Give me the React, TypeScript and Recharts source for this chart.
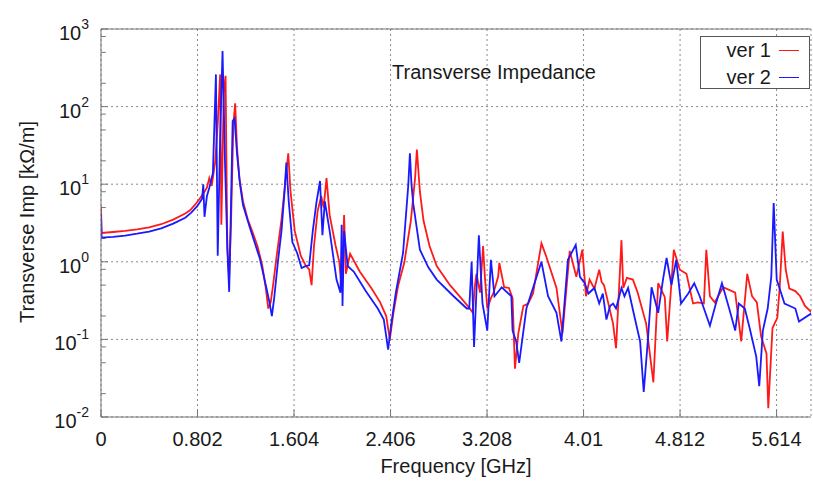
import React from "react";
import { CartesianGrid, LineChart, Line, ReferenceLine, XAxis, YAxis } from "recharts";

// frequency in GHz, impedance in kOhm/m
const redFreq = [
  0, 0.005, 0.1, 0.2, 0.3, 0.4, 0.5, 0.6, 0.7, 0.74, 0.78, 0.82, 0.86, 0.88, 0.9, 0.92, 0.95, 0.97, 0.99, 1.0,
  1.02, 1.035, 1.05, 1.065, 1.08, 1.1, 1.115, 1.13, 1.15, 1.18, 1.22, 1.26, 1.3, 1.34, 1.37, 1.39, 1.41, 1.43,
  1.46, 1.5, 1.53, 1.556, 1.575, 1.61, 1.66, 1.7, 1.73, 1.75, 1.77, 1.8, 1.83, 1.85, 1.874, 1.9, 1.95, 1.98, 2.0,
  2.02, 2.035, 2.07, 2.15, 2.25, 2.32, 2.37, 2.4, 2.43, 2.47, 2.52, 2.575, 2.61, 2.625, 2.65, 2.68, 2.73, 2.79,
  2.9, 3.0, 3.065, 3.09, 3.105, 3.12, 3.15, 3.175, 3.19, 3.21, 3.24, 3.26, 3.3, 3.31, 3.35, 3.39, 3.42, 3.44,
  3.468, 3.51, 3.55, 3.59, 3.66, 3.7, 3.785, 3.835, 3.895, 3.95, 4.0, 4.03, 4.06, 4.1, 4.14, 4.16, 4.18, 4.255,
  4.28, 4.325, 4.34, 4.37, 4.42, 4.46, 4.53, 4.59, 4.63, 4.685, 4.705, 4.76, 4.81, 4.865, 4.92, 4.96, 5.01, 5.03,
  5.06, 5.1, 5.17, 5.27, 5.32, 5.37, 5.41, 5.45, 5.485, 5.53, 5.545, 5.58, 5.62, 5.64, 5.665, 5.69, 5.72, 5.77,
  5.81, 5.85, 5.91,
];
const redImp = [
  5.2, 2.35, 2.42, 2.5, 2.62, 2.78, 3.05, 3.5, 4.2, 4.6, 5.4, 6.5, 8, 9, 12, 9.5, 20, 60, 260, 3,
  150, 250, 1.5, 0.6, 3, 60, 110, 30, 12, 6, 3.5, 2.4, 1.6, 0.9, 0.45, 0.25, 0.3, 0.5,
  1.2, 3.5, 10, 25, 8, 2.5, 1.2, 0.9, 0.8, 0.5, 1.6, 4.5, 7, 5, 12, 4, 1.6, 1.0, 0.45,
  4.0, 0.7, 1.27, 0.75, 0.45, 0.3, 0.2, 0.1, 0.22, 0.5, 0.97, 3.4, 12, 28, 8, 3.4, 1.6, 0.88,
  0.5, 0.33, 0.25, 0.22, 0.46, 0.7, 0.4, 1.6, 0.64, 0.25, 0.34, 0.39, 0.64, 0.97, 0.47, 0.46, 0.34, 0.042,
  0.12, 0.27, 0.29, 0.39, 1.73, 1.17, 0.46, 0.12, 1.38, 0.64, 1.43, 0.36, 0.59, 0.45, 0.79, 0.55, 0.5, 0.16,
  0.077, 1.9, 0.46, 0.62, 0.59, 0.4, 0.16, 0.028, 0.53, 0.35, 0.094, 1.43, 0.79, 0.7, 0.29, 0.3, 0.29, 1.43,
  0.36, 0.3, 0.47, 0.4, 0.094, 0.7, 0.36, 0.3, 0.11, 0.066, 0.013, 0.14, 0.19, 0.47, 2.45, 0.79, 0.45, 0.42,
  0.36, 0.27, 0.22,
];

const blueFreq = [
  0, 0.005, 0.1, 0.2, 0.3, 0.4, 0.5, 0.6, 0.7, 0.75, 0.8, 0.84, 0.85, 0.86, 0.88, 0.9, 0.93, 0.955, 0.97, 0.99,
  1.01, 1.03, 1.05, 1.065, 1.08, 1.094, 1.11, 1.13, 1.155, 1.18, 1.24, 1.32, 1.376, 1.4, 1.42, 1.44, 1.47, 1.5,
  1.525, 1.54, 1.56, 1.59, 1.63, 1.667, 1.7, 1.73, 1.76, 1.79, 1.82, 1.84, 1.86, 1.9, 1.957, 1.99, 2.0, 2.007,
  2.02, 2.05, 2.1, 2.2, 2.3, 2.35, 2.386, 2.41, 2.45, 2.51, 2.553, 2.567, 2.58, 2.594, 2.65, 2.72, 2.79, 2.93,
  3.04, 3.06, 3.08, 3.1, 3.14, 3.17, 3.21, 3.24, 3.27, 3.33, 3.41, 3.42, 3.45, 3.475, 3.535, 3.62, 3.66, 3.715,
  3.785, 3.826, 3.88, 3.945, 3.98, 4.02, 4.05, 4.1, 4.14, 4.17, 4.2, 4.23, 4.255, 4.28, 4.325, 4.35, 4.38, 4.435,
  4.48, 4.51, 4.545, 4.575, 4.63, 4.67, 4.7, 4.74, 4.78, 4.82, 4.88, 4.93, 4.975, 5.06, 5.11, 5.16, 5.22, 5.27,
  5.3, 5.35, 5.39, 5.445, 5.47, 5.5, 5.54, 5.57, 5.59, 5.615, 5.68, 5.77, 5.8, 5.91,
];
const blueImp = [
  4.2, 2.05, 2.1, 2.18, 2.3, 2.45, 2.7, 3.1, 3.7, 4.3, 5.2, 6.5, 10, 3.8, 7, 9, 14, 260, 1.2, 40,
  520, 20, 1.5, 0.41, 5, 65, 70, 25, 10, 5.4, 2.66, 1.1, 0.45, 0.3, 0.2, 0.35, 1.0, 2.5,
  8, 19, 6, 1.8, 1.3, 0.83, 0.88, 0.9, 2.5, 5.8, 11, 2.2, 6, 2.5, 0.59, 0.4, 3.0, 0.27,
  2.5, 0.88, 0.75, 0.42, 0.25, 0.18, 0.074, 0.15, 0.4, 1.3, 9.5, 25, 10, 5.7, 1.43, 0.85, 0.59, 0.36,
  0.25, 0.25, 1.0, 0.08, 2.2, 0.29, 0.13, 1.06, 0.36, 0.47, 0.36, 0.13, 0.094, 0.05, 0.25, 0.64, 1.0, 0.36,
  0.22, 0.094, 1.06, 1.65, 0.64, 0.53, 0.39, 0.46, 0.29, 0.39, 0.18, 0.27, 0.29, 0.25, 0.46, 0.36, 0.46, 0.19,
  0.094, 0.021, 0.1, 0.47, 0.22, 0.59, 1.12, 0.5, 1.06, 0.29, 0.39, 0.53, 0.36, 0.15, 0.29, 0.53, 0.25, 0.13,
  0.29, 0.25, 0.14, 0.06, 0.025, 0.13, 0.25, 0.64, 5.7, 0.59, 0.29, 0.25, 0.17, 0.22,
];

const xTicks = [0, 0.802, 1.604, 2.406, 3.208, 4.01, 4.812, 5.614];
const yTicks = [0.01, 0.1, 1, 10, 100, 1000];
const yExponents = [-2, -1, 0, 1, 2, 3];
const yMinorTicks = [0.02, 0.05, 0.08, 0.2, 0.5, 0.8, 2, 5, 8, 20, 50, 80, 200, 500, 800];

const redData = redFreq.map((f, i) => ({ f, z: redImp[i] }));
const blueData = blueFreq.map((f, i) => ({ f, z: blueImp[i] }));

const FONT = "'Liberation Sans', Arial, Helvetica, sans-serif";
const TEXT = "#1a1a1a";
const AXIS = "#777";

function XTick({ x, y, payload }: any) {
  return (
    <g>
      <line x1={x} x2={x} y1={y} y2={y - 7} stroke={AXIS} />
      <text x={x} y={y + 29} textAnchor="middle" fontSize={20} fill={TEXT} fontFamily={FONT}>
        {String(payload.value)}
      </text>
    </g>
  );
}

function YTick({ x, y, payload }: any) {
  const exp = yExponents[yTicks.indexOf(payload.value)];
  return (
    <g>
      <line x1={x} x2={x + 7} y1={y} y2={y} stroke={AXIS} />
      <text x={x - 12} y={y + 11} textAnchor="end" fontSize={20} fill={TEXT} fontFamily={FONT}>
        10
        <tspan fontSize={14} dy={-11}>
          {exp}
        </tspan>
      </text>
    </g>
  );
}

export default function App() {
  return (
    <div style={{ position: "absolute", left: 0, top: 0, width: 813, height: 481, background: "#fff" }}>
      <LineChart width={813} height={481} margin={{ top: 29, right: 2, bottom: 0, left: 0 }}>
        <CartesianGrid stroke="#8a8a8a" strokeDasharray="2 3" />
        <XAxis
          type="number"
          dataKey="f"
          domain={[0, 5.9]}
          ticks={xTicks}
          allowDataOverflow
          height={64}
          tickSize={0}
          tickMargin={0}
          tick={<XTick />}
          axisLine={{ stroke: AXIS }}
          tickLine={false}
          label={{
            content: () => (
              <text x={456} y={473} textAnchor="middle" fontSize={20} fill={TEXT} fontFamily={FONT}>
                Frequency [GHz]
              </text>
            ),
          }}
        />
        <YAxis
          type="number"
          dataKey="z"
          scale="log"
          domain={[0.01, 1000]}
          ticks={yTicks}
          allowDataOverflow
          width={101}
          tickSize={0}
          tickMargin={0}
          tick={<YTick />}
          axisLine={{ stroke: AXIS }}
          tickLine={false}
          label={{
            content: () => (
              <text
                x={27}
                y={222}
                transform="rotate(-90 27 222)"
                textAnchor="middle"
                dominantBaseline="central"
                fontSize={20}
                fill={TEXT}
                fontFamily={FONT}
              >
                Transverse Imp [kΩ/m]
              </text>
            ),
          }}
        />
        <ReferenceLine y={1000} stroke={AXIS} />
        {yMinorTicks.map((v) => (
          <ReferenceLine
            key={v}
            segment={[
              { x: 0, y: v },
              { x: 0.04, y: v },
            ]}
            stroke={AXIS}
          />
        ))}
        <Line
          data={redData}
          dataKey="z"
          stroke="#ff1a1a"
          strokeWidth={1.8}
          dot={false}
          type="linear"
          isAnimationActive={false}
        />
        <Line
          data={blueData}
          dataKey="z"
          stroke="#1a1aff"
          strokeWidth={1.8}
          dot={false}
          type="linear"
          isAnimationActive={false}
        />
      </LineChart>
      <div
        style={{
          position: "absolute",
          left: 390,
          top: 60,
          width: 208,
          textAlign: "center",
          fontFamily: FONT,
          fontSize: 20,
          color: TEXT,
          lineHeight: "24px",
          whiteSpace: "nowrap",
        }}
      >
        Transverse Impedance
      </div>
      <div
        style={{
          position: "absolute",
          left: 700,
          top: 36,
          width: 110,
          height: 53,
          border: "1px solid #555",
          background: "#fff",
          fontFamily: FONT,
          fontSize: 20,
          color: TEXT,
          boxSizing: "border-box",
        }}
      >
        {[
          { name: "ver 1", color: "#ff1a1a", top: 2 },
          { name: "ver 2", color: "#1a1aff", top: 29 },
        ].map((item) => (
          <div key={item.name} style={{ position: "absolute", left: 0, top: item.top, width: 108, height: 22 }}>
            <span style={{ position: "absolute", right: 38, top: 0, lineHeight: "22px", whiteSpace: "nowrap" }}>
              {item.name}
            </span>
            <span
              style={{
                position: "absolute",
                left: 78,
                top: 11,
                width: 20,
                height: 0,
                borderTop: `1.5px solid ${item.color}`,
              }}
            />
          </div>
        ))}
      </div>
    </div>
  );
}
